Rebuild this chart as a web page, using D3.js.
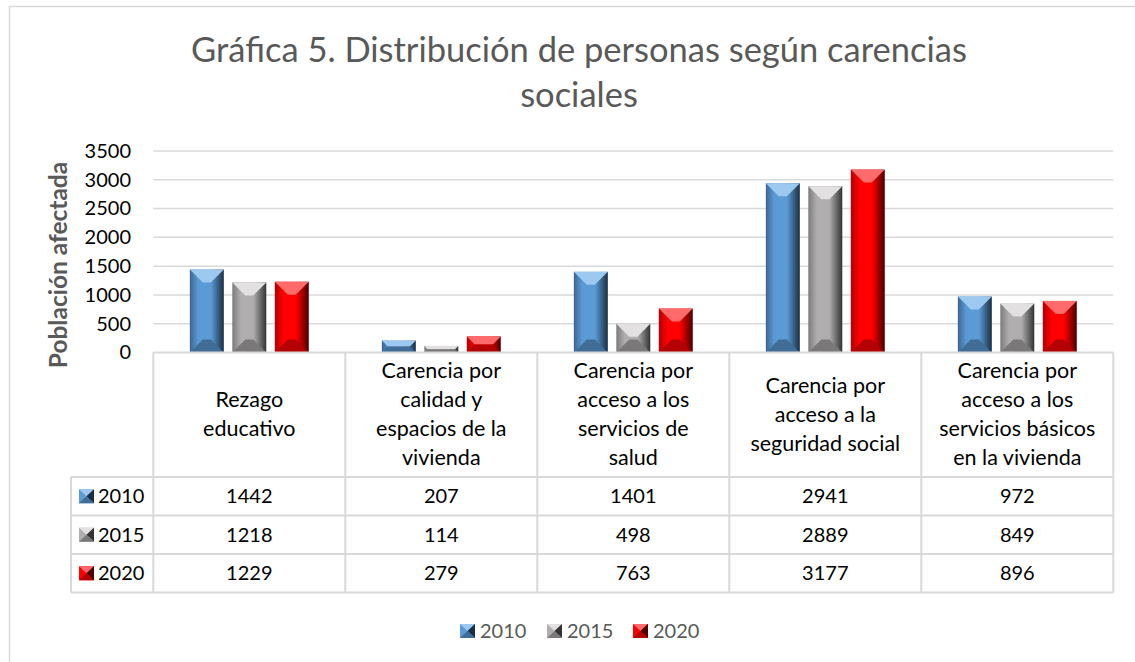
<html>
<head>
    <script src="https://d3js.org/d3.v7.min.js"></script>
</head>
<body style="margin:0;background:#fff">
    <svg id='s' width="1135" height="662"></svg>
    <script>
        // data
        const categories = [
            ["Rezago", "educativo"],
            ["Carencia por", "calidad y", "espacios de la", "vivienda"],
            ["Carencia por", "acceso a los", "servicios de", "salud"],
            ["Carencia por", "acceso a la", "seguridad social"],
            ["Carencia por", "acceso a los", "servicios básicos", "en la vivienda"]
        ]
        const years = ["2010", "2015", "2020"]
        const v2010 = [1442, 207, 1401, 2941, 972]
        const v2015 = [1218, 114, 498, 2889, 849]
        const v2020 = [1229, 279, 763, 3177, 896]
        const yTicks = [0, 500, 1000, 1500, 2000, 2500, 3000, 3500]

        const series = [v2010, v2015, v2020]
        const colors = [
            { base: "#5b9bd5", light: "#9dc8f0", dark: "#3a6791", edge: "#1b2f44", bottom: "#3f6d96" },
            { base: "#b0aeae", light: "#e2e0e0", dark: "#7c7a7a", edge: "#333", bottom: "#7a7878" },
            { base: "#ff0000", light: "#ff6a6a", dark: "#b00000", edge: "#4a0000", bottom: "#b30000" }
        ]

        const FONT = "Lato, 'Open Sans', sans-serif"
        const PLOT = { LEFT: 153.3, RIGHT: 1113.3, TOP: 151, BOTTOM: 352.5 }
        const ROW_TOP = 477, ROW_H = 38.5, LABEL_LEFT = 71

        const svg = d3.select("svg")

        // chart border
        svg.append("rect")
            .attr("x", 9.5).attr("y", 6.5)
            .attr("width", 1140).attr("height", 680)
            .attr("fill", "#fff")
            .attr("stroke", "#d9d9d9").attr("stroke-width", 1.5)

        // title
        const title = svg.append("text")
            .attr("text-anchor", "middle")
            .attr("font-family", FONT)
            .attr("font-size", "34.5px")
            .attr("fill", "#595959")
        title.append("tspan").attr("x", 579).attr("y", 62).text("Gráfica 5. Distribución de personas según carencias")
        title.append("tspan").attr("x", 579).attr("y", 107).text("sociales")

        const x = d3.scaleBand()
            .domain(d3.range(categories.length))
            .range([PLOT.LEFT, PLOT.RIGHT])

        const xs = d3.scaleBand()
            .domain(d3.range(years.length))
            .range([0, x.bandwidth()])
            .paddingInner(0.2)
            .paddingOuter(0.86)

        const y = d3.scaleLinear()
            .domain([0, 3500])
            .range([PLOT.BOTTOM, PLOT.TOP])

        // gridlines
        svg.append("g")
            .selectAll("line")
            .data(yTicks.slice(1))
            .enter().append("line")
            .attr("x1", PLOT.LEFT).attr("x2", PLOT.RIGHT)
            .attr("y1", d => y(d)).attr("y2", d => y(d))
            .attr("stroke", "#d9d9d9").attr("stroke-width", 1.5)

        // y axis
        const yAxis = svg.append("g")
            .attr("transform", "translate(131,0)")
            .call(d3.axisLeft(y).tickValues(yTicks).tickFormat(d3.format("d")).tickSize(0).tickPadding(0))
        yAxis.select(".domain").remove()
        yAxis.selectAll("text")
            .attr("font-family", FONT)
            .attr("font-size", "20px")
            .attr("fill", "#000")

        // y label
        svg.append("text")
            .attr("transform", "translate(67, 265) rotate(-90)")
            .attr("text-anchor", "middle")
            .attr("font-family", FONT)
            .attr("font-size", "24.5px")
            .attr("font-weight", "bold")
            .attr("fill", "#595959")
            .text("Población afectada")

        // gradients for bevel side faces
        const defs = svg.append("defs")
        colors.forEach((c, i) => {
            const g = defs.append("linearGradient").attr("id", "body" + i)
                .attr("x1", 0).attr("x2", 1).attr("y1", 0).attr("y2", 0)
            g.append("stop").attr("offset", "0%").attr("stop-color", c.dark)
            g.append("stop").attr("offset", "25%").attr("stop-color", c.base)
            g.append("stop").attr("offset", "62%").attr("stop-color", c.base)
            g.append("stop").attr("offset", "100%").attr("stop-color", c.edge)
        })

        function bevelBar(g, bx, by, w, h, si, size) {
            const c = colors[si]
            const b = Math.min(size, w / 2 - 1, h / 2)
            g.append("rect").attr("x", bx).attr("y", by).attr("width", w).attr("height", h)
                .attr("fill", `url(#body${si})`)
            g.append("polygon")
                .attr("points", [[bx, by], [bx + w, by], [bx + w - b, by + b], [bx + b, by + b]].join(" "))
                .attr("fill", c.light)
            g.append("polygon")
                .attr("points", [[bx, by + h], [bx + w, by + h], [bx + w - b, by + h - b], [bx + b, by + h - b]].join(" "))
                .attr("fill", c.bottom)
        }

        // bars
        const bars = svg.append("g")
        series.forEach((vals, si) => {
            vals.forEach((v, ci) => {
                const bx = x(ci) + xs(si)
                const by = y(v)
                bevelBar(bars, bx, by, xs.bandwidth(), PLOT.BOTTOM - by, si, 13)
            })
        })

        // data table
        const table = svg.append("g")
        const gridColor = "#d9d9d9"
        const tableBottom = ROW_TOP + ROW_H * years.length
        // horizontal lines
        table.append("line")
            .attr("x1", PLOT.LEFT).attr("x2", PLOT.RIGHT)
            .attr("y1", PLOT.BOTTOM).attr("y2", PLOT.BOTTOM)
            .attr("stroke", gridColor).attr("stroke-width", 2)
        d3.range(years.length + 1).forEach(r => {
            table.append("line")
                .attr("x1", LABEL_LEFT).attr("x2", PLOT.RIGHT)
                .attr("y1", ROW_TOP + r * ROW_H).attr("y2", ROW_TOP + r * ROW_H)
                .attr("stroke", gridColor).attr("stroke-width", 2)
        })
        // vertical lines
        table.append("line")
            .attr("x1", LABEL_LEFT).attr("x2", LABEL_LEFT)
            .attr("y1", ROW_TOP).attr("y2", tableBottom)
            .attr("stroke", gridColor).attr("stroke-width", 2)
        d3.range(categories.length + 1).forEach(ci => {
            const lx = ci < categories.length ? x(ci) : PLOT.RIGHT
            table.append("line")
                .attr("x1", lx).attr("x2", lx)
                .attr("y1", PLOT.BOTTOM).attr("y2", tableBottom)
                .attr("stroke", gridColor).attr("stroke-width", 2)
        })

        // header labels
        categories.forEach((lines, ci) => {
            const cx = x(ci) + x.bandwidth() / 2
            const midY = (PLOT.BOTTOM + ROW_TOP) / 2
            const lh = 29
            const t = table.append("text")
                .attr("text-anchor", "middle")
                .attr("font-family", FONT)
                .attr("font-size", "21.5px")
                .attr("fill", "#000")
            lines.forEach((ln, i) => {
                t.append("tspan")
                    .attr("x", cx)
                    .attr("y", midY + (i - (lines.length - 1) / 2) * lh + 7)
                    .text(ln)
            })
        })

        // legend swatch
        function swatch(g, sx, sy, si) {
            const c = colors[si]
            const w = 15, h = 14
            g.append("rect").attr("x", sx).attr("y", sy).attr("width", w).attr("height", h).attr("fill", c.base)
            g.append("polygon").attr("points", [[sx, sy], [sx + w, sy], [sx + w / 2, sy + h / 2]].join(" ")).attr("fill", c.light)
            g.append("polygon").attr("points", [[sx + w, sy], [sx + w, sy + h], [sx + w / 2, sy + h / 2]].join(" ")).attr("fill", c.edge)
            g.append("polygon").attr("points", [[sx, sy + h], [sx + w, sy + h], [sx + w / 2, sy + h / 2]].join(" ")).attr("fill", c.bottom)
        }

        // rows
        series.forEach((vals, si) => {
            const cy = ROW_TOP + si * ROW_H + ROW_H / 2
            swatch(table, 79, cy - 7, si)
            table.append("text")
                .attr("x", 98).attr("y", cy + 7)
                .attr("font-family", FONT).attr("font-size", "20px").attr("fill", "#000")
                .text(years[si])
            vals.forEach((v, ci) => {
                table.append("text")
                    .attr("x", x(ci) + x.bandwidth() / 2).attr("y", cy + 7)
                    .attr("text-anchor", "middle")
                    .attr("font-family", FONT).attr("font-size", "20px").attr("fill", "#000")
                    .text(v)
            })
        })

        // bottom legend
        const legend = svg.append("g")
        const legendX = [460, 547, 633]
        years.forEach((yr, si) => {
            swatch(legend, legendX[si], 624, si)
            legend.append("text")
                .attr("x", legendX[si] + 20).attr("y", 638)
                .attr("font-family", FONT).attr("font-size", "20px").attr("fill", "#595959")
                .text(yr)
        })
    </script>
</body>
</html>
